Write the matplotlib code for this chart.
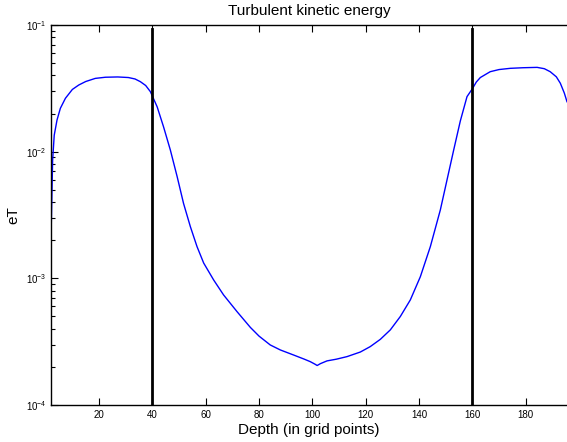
import matplotlib
matplotlib.use('Agg')
import matplotlib.pyplot as plt
from matplotlib.ticker import LogLocator, NullFormatter


# turbulent kinetic energy profile
depth = [2.1, 2.6, 3.2, 4.25, 5.5, 7.4, 10, 12.4, 15, 18.6, 22.4, 27, 31, 33.5,
         35.5, 37.5, 39.25, 41.8, 44.2, 46.75, 49.3, 51.7, 54.25, 56.75, 59.25,
         63, 66.7, 71.75, 76.75, 80, 84.2, 88, 93, 97, 99.2, 101, 101.8, 103,
         105.5, 109, 113, 118, 121.7, 125.5, 129.25, 133, 136.75, 140.5,
         144.25, 148, 150.5, 153, 155.5, 158, 160.1, 161.5, 163, 166.7, 170,
         174.2, 179, 184.3, 187, 189.2, 191.5, 193, 194.5, 195.5]
eT = [2.7e-3, 8.6e-3, 0.0135, 0.0178, 0.022, 0.0264, 0.031, 0.0336, 0.0358,
      0.0379, 0.0387, 0.0389, 0.0385, 0.0375, 0.0357, 0.0333, 0.0298, 0.0226,
      0.0157, 0.0103, 0.00635, 0.0039, 0.00256, 0.00178, 0.00132, 9.7e-4,
      7.4e-4, 5.46e-4, 4.1e-4, 3.5e-4, 2.98e-4, 2.72e-4, 2.48e-4, 2.3e-4,
      2.2e-4, 2.1e-4, 2.05e-4, 2.12e-4, 2.23e-4, 2.3e-4, 2.41e-4, 2.62e-4,
      2.89e-4, 3.3e-4, 3.92e-4, 5.0e-4, 6.76e-4, 1.03e-3, 1.78e-3, 3.47e-3,
      5.98e-3, 0.0103, 0.0175, 0.0272, 0.0316, 0.0355, 0.0385, 0.0428,
      0.0445, 0.0455, 0.046, 0.0463, 0.0452, 0.0428, 0.039, 0.0347, 0.029,
      0.0248]

# layer boundaries
boundaries = [40, 160]
x_ticks = [20, 40, 60, 80, 100, 120, 140, 160, 180]

plt.rcParams['font.family'] = ['Liberation Sans', 'DejaVu Sans']
plt.rcParams['mathtext.fontset'] = 'custom'
plt.rcParams['mathtext.rm'] = 'Liberation Sans'

fig = plt.figure(figsize=(5.67, 4.42), dpi=100)
ax = fig.add_axes([0.09, 0.0837, 0.91, 0.8597])

ax.plot(depth, eT, color='#0000ff', linewidth=1.0)
for b in boundaries:
    ax.plot([b, b], [1e-4, 0.093], color='black', linewidth=2.0)

ax.set_yscale('log')
ax.set_xlim(2, 195.5)
ax.set_ylim(1e-4, 1e-1)
ax.set_xticks(x_ticks)
ax.yaxis.set_major_locator(LogLocator(base=10))
ax.yaxis.set_minor_locator(LogLocator(base=10, subs=range(2, 10)))
ax.yaxis.set_minor_formatter(NullFormatter())

ax.tick_params(which='both', direction='in', top=True, right=False,
               labelsize=7, width=0.8, colors='black')
ax.tick_params(which='major', length=5)
ax.tick_params(which='minor', length=3)
ax.spines['right'].set_visible(False)
for s in ['left', 'top', 'bottom']:
    ax.spines[s].set_linewidth(1.0)

ax.set_title('Turbulent kinetic energy', fontsize=11, pad=7)
ax.set_xlabel('Depth (in grid points)', fontsize=11, labelpad=2)
ax.set_ylabel('eT', fontsize=11, labelpad=4)

fig.savefig('out.png', dpi=100)
